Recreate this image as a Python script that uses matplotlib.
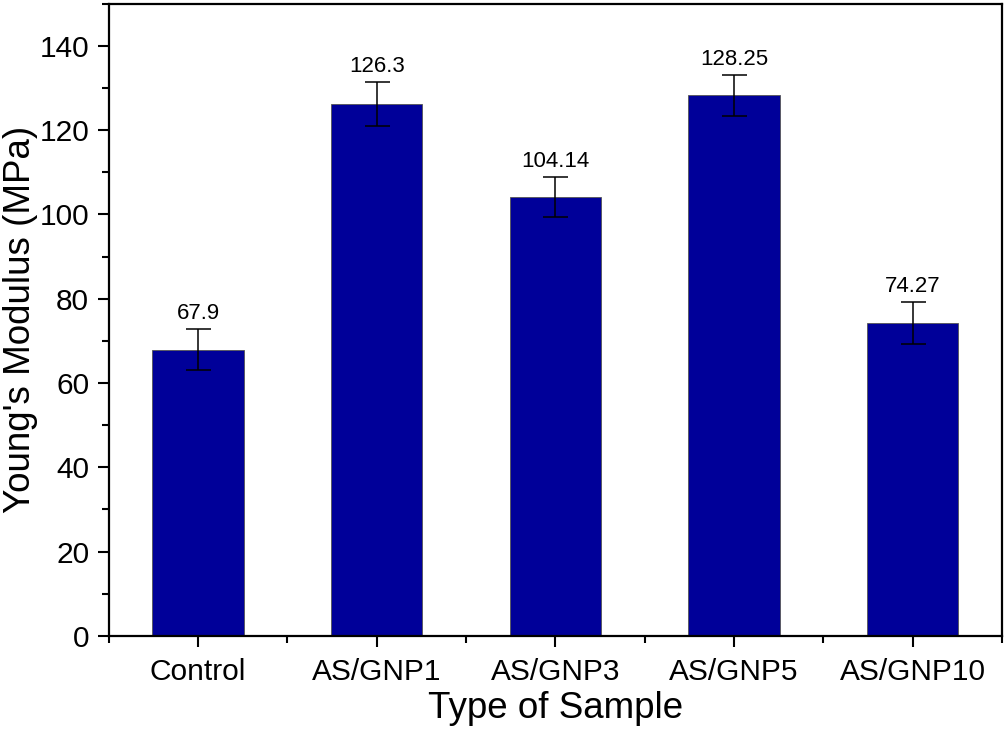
import matplotlib
matplotlib.use('Agg')
import matplotlib.pyplot as plt
import numpy as np
from matplotlib.ticker import MultipleLocator

plt.rcParams['font.family'] = ['Liberation Sans', 'DejaVu Sans']

# ── data ─────────────────────────────────────────────
samples = ['Control', 'AS/GNP1', 'AS/GNP3', 'AS/GNP5', 'AS/GNP10']
modulus = [67.9, 126.3, 104.14, 128.25, 74.27]
errors = [4.8, 5.2, 4.8, 4.8, 5.0]
labels = ['67.9', '126.3', '104.14', '128.25', '74.27']

fig = plt.figure(figsize=(10.06, 7.42), dpi=100)
ax = fig.add_axes([0.108, 0.143, 0.888, 0.852])

x = np.arange(len(samples))
ax.bar(x, modulus, width=0.51, color='#000099', edgecolor='#555555', linewidth=0.6,
       yerr=errors, capsize=9, error_kw=dict(ecolor='black', elinewidth=1.1, capthick=1.1))

for xi, val, err, lab in zip(x, modulus, errors, labels):
    ax.text(xi, val + err + 1.2, lab, ha='center', va='bottom', fontsize=16)

ax.set_xlim(-0.5, 4.5)
ax.set_ylim(0, 150)
ax.set_xticks(x)
ax.set_xticklabels(samples)
ax.xaxis.set_minor_locator(MultipleLocator(1, offset=0.5))
ax.yaxis.set_major_locator(MultipleLocator(20))
ax.yaxis.set_minor_locator(MultipleLocator(10))

ax.tick_params(axis='both', which='major', direction='out', length=8, width=1.5, labelsize=21.5)
ax.tick_params(axis='both', which='minor', direction='out', length=5, width=1.5)
ax.tick_params(axis='x', pad=8)
ax.tick_params(axis='y', pad=6)
for sp in ax.spines.values():
    sp.set_linewidth(1.6)

# axis titles placed in figure coords
fig.text(0.552, 0.032, 'Type of Sample', fontsize=26.5, ha='center', va='baseline')
fig.text(0.02, 0.569, "Young's Modulus (MPa)", fontsize=26.5, rotation=90,
         ha='center', va='center')

plt.savefig('out.png', dpi=100)
